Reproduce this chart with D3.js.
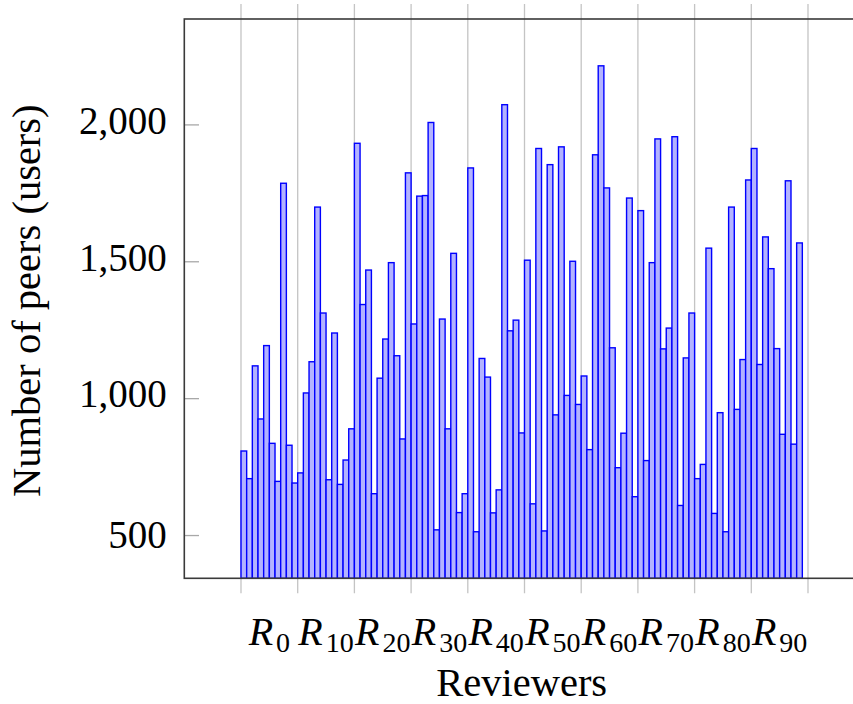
<!DOCTYPE html>
<html>
<head>
<meta charset="utf-8">
<script src="https://cdn.jsdelivr.net/npm/d3@7/dist/d3.min.js"></script>
<style>
body{margin:0;background:#fff;}
svg text{fill:#000;}
</style>
</head>
<body>
<svg id="chart" width="853" height="704"></svg>
<script>
// number of peers per reviewer, R_0 .. R_98
var peers=[807,706,1118,924,1192,835,696,1785,828,690,
	727,1019,1133,1698,1311,702,1238,685,774,888,
	1931,1342,1468,651,1073,1216,1495,1155,851,1823,
	1271,1738,1740,2007,519,1289,888,1529,582,651,
	1841,512,1145,1077,581,665,2072,1246,1285,873,
	1504,614,1912,515,1853,939,1918,1010,1500,977,
	1081,812,1889,2214,1768,1184,746,872,1731,640,
	1685,772,1495,1947,1180,1256,1955,608,1147,1311,
	706,758,1548,579,947,512,1698,959,1141,1797,
	1912,1123,1589,1473,1181,868,1794,832,1567];
var reviewers=d3.range(peers.length);
var xTicks=d3.range(0,101,10);
var xLabels=[0,10,20,30,40,50,60,70,80,90];
var yTicks=[500,1000,1500,2000];
var xTitle="Reviewers";
var yTitle="Number of peers (users)";

var svg=d3.select("#chart");
var plotL=184.3,plotT=19,plotB=578.3,plotR=864.7;
var serif="'Liberation Serif', 'Times New Roman', serif";

var x=d3.scaleLinear().domain([-10,110]).range([plotL,plotR]);
var y=d3.scaleLinear().domain([342,2385]).range([plotB,plotT]);

// vertical grid + outside ticks (top and bottom)
svg.append("g").selectAll("line").data(xTicks).enter().append("line")
	.attr("x1",d=>x(d)).attr("x2",d=>x(d))
	.attr("y1",plotT-15).attr("y2",plotB+15)
	.attr("stroke","#c4c4c4").attr("stroke-width",1.3);

// bars (interval style: each one spans [i, i+1])
svg.append("g").selectAll("rect").data(reviewers).enter().append("rect")
	.attr("x",d=>x(d))
	.attr("width",d=>x(d+1)-x(d))
	.attr("y",d=>y(peers[d]))
	.attr("height",d=>plotB-y(peers[d]))
	.attr("fill","#b3b3ff")
	.attr("stroke","#0000ff")
	.attr("stroke-width",1.4);

// y axis
var fmt=d3.format(",");
var yAxis=d3.axisLeft(y).tickValues(yTicks).tickFormat(fmt)
	.tickSize(-14.7).tickPadding(17.6);
var gy=svg.append("g").attr("transform","translate("+plotL+",0)").call(yAxis);
gy.select(".domain").remove();
gy.selectAll(".tick line").attr("stroke","#a8a8a8").attr("stroke-width",1.3);
gy.selectAll(".tick text")
	.style("font-family",serif)
	.style("font-size","39px")
	.attr("fill","#000")
	.attr("dy",d=>(fmt(d).indexOf(",")>=0?8.75:12.5)+"px");

// frame
svg.append("rect")
	.attr("x",plotL).attr("y",plotT)
	.attr("width",plotR-plotL).attr("height",plotB-plotT)
	.attr("fill","none").attr("stroke","#3a3a3a").attr("stroke-width",1.6);

// x tick labels at interval centres
var lab=svg.append("g").selectAll("text").data(xLabels).enter().append("text")
	.attr("x",d=>x(d+5)).attr("y",645)
	.style("font-family",serif)
	.attr("text-anchor","middle");
lab.append("tspan").text("R").style("font-style","italic").style("font-size","40px");
lab.append("tspan").text(d=>d).style("font-size","28px").attr("dx",3).attr("dy",7);

// axis titles
svg.append("text")
	.attr("x",x(49.5)).attr("y",696)
	.style("font-family",serif)
	.attr("text-anchor","middle")
	.style("font-size","40.5px")
	.text(xTitle);
svg.append("text")
	.attr("transform","translate(40,"+((plotT+plotB)/2+2)+") rotate(-90)")
	.style("font-family",serif)
	.attr("text-anchor","middle")
	.style("font-size","40.5px")
	.text(yTitle);
</script>
</body>
</html>
